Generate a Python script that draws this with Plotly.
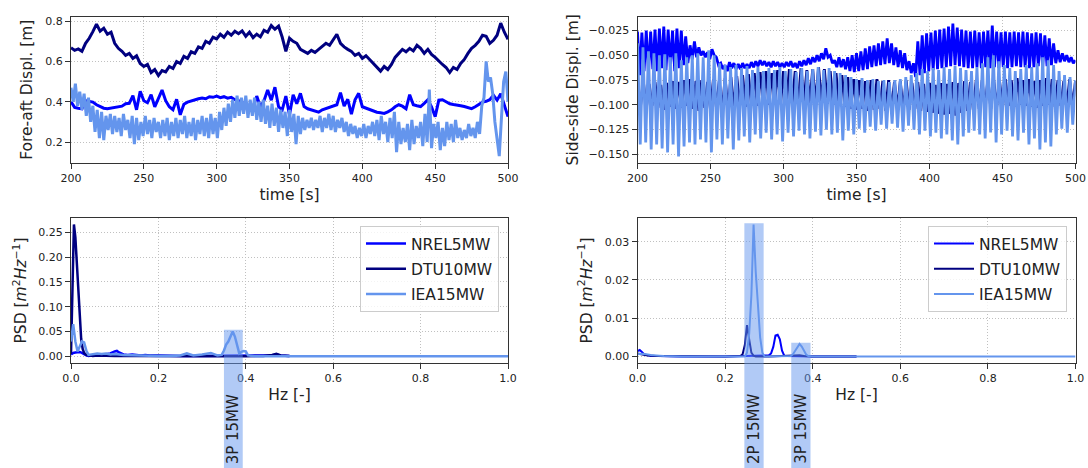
import numpy as np
import plotly.graph_objects as go

# ---------------- tower-top displacement time series (t = 200 ... 500 s) ----------------
# fore-aft [m]
fa_nrel = [
    0.400, 0.372, 0.368, 0.365, 0.405, 0.400, 0.398, 0.385, 0.376, 0.368,
    0.365, 0.368, 0.370, 0.375, 0.378, 0.390, 0.392, 0.430, 0.360, 0.452,
    0.405, 0.395, 0.435, 0.375, 0.420, 0.458, 0.405, 0.375, 0.360, 0.412,
    0.335, 0.388, 0.398, 0.405, 0.410, 0.415, 0.418, 0.415, 0.425, 0.422,
    0.428, 0.420, 0.425, 0.418, 0.422, 0.410, 0.405, 0.395, 0.388, 0.380,
    0.372, 0.428, 0.375, 0.405, 0.458, 0.408, 0.472, 0.375, 0.360, 0.428,
    0.335, 0.435, 0.390, 0.442, 0.376, 0.365, 0.358, 0.352, 0.348, 0.360,
    0.366, 0.372, 0.376, 0.385, 0.445, 0.378, 0.412, 0.338, 0.410, 0.442,
    0.375, 0.368, 0.362, 0.355, 0.348, 0.345, 0.342, 0.350, 0.360, 0.375,
    0.385, 0.378, 0.365, 0.435, 0.385, 0.380, 0.376, 0.392, 0.410, 0.375,
    0.326, 0.408, 0.410, 0.400, 0.390, 0.386, 0.384, 0.380, 0.376, 0.372,
    0.366, 0.375, 0.388, 0.398, 0.402, 0.410, 0.432, 0.408, 0.440, 0.378,
    0.326,
]
fa_dtu = [
    0.668, 0.655, 0.662, 0.650, 0.690, 0.715, 0.748, 0.785, 0.750, 0.765,
    0.735, 0.745, 0.690, 0.665, 0.650, 0.630, 0.640, 0.615, 0.628, 0.590,
    0.575, 0.585, 0.545, 0.560, 0.530, 0.555, 0.548, 0.575, 0.565, 0.600,
    0.590, 0.625, 0.615, 0.648, 0.640, 0.672, 0.665, 0.700, 0.690, 0.720,
    0.712, 0.735, 0.720, 0.745, 0.730, 0.750, 0.738, 0.752, 0.725, 0.745,
    0.718, 0.735, 0.722, 0.755, 0.745, 0.778, 0.760, 0.775, 0.720, 0.650,
    0.715, 0.700, 0.690, 0.660, 0.650, 0.640, 0.655, 0.645, 0.660, 0.675,
    0.690, 0.680, 0.705, 0.735, 0.690, 0.672, 0.660, 0.650, 0.630, 0.640,
    0.615, 0.628, 0.610, 0.590, 0.570, 0.552, 0.575, 0.560, 0.585, 0.620,
    0.640, 0.660, 0.648, 0.665, 0.652, 0.680, 0.665, 0.640, 0.660, 0.635,
    0.620, 0.600, 0.585, 0.570, 0.545, 0.570, 0.560, 0.590, 0.610, 0.640,
    0.665, 0.680, 0.700, 0.730, 0.725, 0.690, 0.705, 0.730, 0.790, 0.745,
    0.710,
]
fa_iea = [
    0.47, 0.40, 0.49, 0.38, 0.45, 0.36, 0.44, 0.33, 0.42, 0.30,
    0.38, 0.25, 0.36, 0.22, 0.35, 0.21, 0.33, 0.26, 0.34, 0.24,
    0.33, 0.25, 0.32, 0.23, 0.34, 0.26, 0.31, 0.22, 0.33, 0.19,
    0.32, 0.21, 0.30, 0.23, 0.33, 0.24, 0.31, 0.22, 0.32, 0.25,
    0.30, 0.22, 0.31, 0.23, 0.32, 0.21, 0.30, 0.23, 0.32, 0.22,
    0.31, 0.24, 0.33, 0.22, 0.30, 0.23, 0.32, 0.21, 0.31, 0.24,
    0.33, 0.23, 0.32, 0.22, 0.34, 0.24, 0.32, 0.22, 0.35, 0.26,
    0.37, 0.28, 0.39, 0.30, 0.41, 0.32, 0.43, 0.33, 0.42, 0.34,
    0.43, 0.32, 0.41, 0.33, 0.42, 0.31, 0.40, 0.30, 0.41, 0.29,
    0.38, 0.27, 0.39, 0.28, 0.37, 0.25, 0.36, 0.27, 0.35, 0.23,
    0.36, 0.25, 0.34, 0.19, 0.33, 0.24, 0.32, 0.26, 0.31, 0.27,
    0.32, 0.26, 0.31, 0.27, 0.33, 0.25, 0.32, 0.27, 0.34, 0.26,
    0.33, 0.25, 0.31, 0.27, 0.32, 0.25, 0.30, 0.23, 0.29, 0.24,
    0.28, 0.22, 0.27, 0.23, 0.29, 0.22, 0.28, 0.24, 0.30, 0.23,
    0.31, 0.21, 0.33, 0.24, 0.30, 0.20, 0.32, 0.22, 0.35, 0.15,
    0.30, 0.19, 0.27, 0.20, 0.29, 0.16, 0.31, 0.19, 0.28, 0.22,
    0.30, 0.18, 0.34, 0.20, 0.46, 0.17, 0.29, 0.22, 0.30, 0.16,
    0.27, 0.18, 0.30, 0.21, 0.29, 0.20, 0.31, 0.22, 0.27, 0.21,
    0.26, 0.22, 0.29, 0.23, 0.27, 0.22, 0.30, 0.24, 0.38, 0.42,
    0.60, 0.50, 0.52, 0.44, 0.30, 0.20, 0.13, 0.32, 0.50, 0.55,
    0.40,
]

# side-side [m]
ss_nrel = [
    -0.026, -0.070, -0.027, -0.066, -0.025, -0.068, -0.026, -0.064, -0.024, -0.066,
    -0.023, -0.063, -0.021, -0.065, -0.024, -0.062, -0.025, -0.066, -0.023, -0.063,
    -0.025, -0.060, -0.031, -0.058, -0.040, -0.054, -0.036, -0.052, -0.042, -0.050,
    -0.046, -0.052, -0.047, -0.054, -0.044, -0.050, -0.052, -0.060, -0.058, -0.064,
    -0.060, -0.066, -0.057, -0.063, -0.058, -0.064, -0.059, -0.064, -0.058, -0.063,
    -0.059, -0.063, -0.057, -0.062, -0.056, -0.061, -0.055, -0.060, -0.056, -0.061,
    -0.057, -0.062, -0.056, -0.061, -0.057, -0.062, -0.058, -0.062, -0.057, -0.061,
    -0.056, -0.062, -0.058, -0.063, -0.056, -0.061, -0.055, -0.060, -0.053, -0.059,
    -0.052, -0.057, -0.050, -0.056, -0.048, -0.054, -0.043, -0.052, -0.050, -0.058,
    -0.055, -0.062, -0.052, -0.062, -0.054, -0.064, -0.052, -0.066, -0.050, -0.067,
    -0.048, -0.066, -0.046, -0.065, -0.043, -0.064, -0.041, -0.062, -0.040, -0.061,
    -0.038, -0.060, -0.036, -0.059, -0.033, -0.058, -0.038, -0.060, -0.042, -0.062,
    -0.045, -0.063, -0.048, -0.065, -0.056, -0.068, -0.058, -0.072, -0.036, -0.070,
    -0.030, -0.068, -0.028, -0.066, -0.027, -0.065, -0.025, -0.064, -0.024, -0.063,
    -0.023, -0.062, -0.021, -0.061, -0.018, -0.060, -0.022, -0.061, -0.024, -0.062,
    -0.025, -0.063, -0.026, -0.063, -0.025, -0.062, -0.027, -0.063, -0.026, -0.062,
    -0.025, -0.063, -0.020, -0.062, -0.026, -0.063, -0.027, -0.062, -0.026, -0.063,
    -0.027, -0.062, -0.026, -0.061, -0.027, -0.062, -0.026, -0.062, -0.027, -0.063,
    -0.028, -0.062, -0.027, -0.061, -0.028, -0.062, -0.030, -0.061, -0.033, -0.060,
    -0.038, -0.058, -0.045, -0.057, -0.048, -0.056, -0.050, -0.057, -0.052, -0.058,
    -0.055,
]
ss_dtu = [
    -0.078, -0.102, -0.076, -0.104, -0.079, -0.101, -0.077, -0.103, -0.080, -0.105,
    -0.078, -0.102, -0.076, -0.104, -0.077, -0.103, -0.075, -0.101, -0.074, -0.104,
    -0.076, -0.106, -0.075, -0.103, -0.077, -0.105, -0.074, -0.102, -0.076, -0.106,
    -0.073, -0.104, -0.072, -0.103, -0.071, -0.101, -0.070, -0.102, -0.069, -0.100,
    -0.068, -0.101, -0.067, -0.099, -0.066, -0.100, -0.068, -0.098, -0.065, -0.099,
    -0.066, -0.100, -0.064, -0.098, -0.066, -0.099, -0.063, -0.097, -0.065, -0.098,
    -0.064, -0.099, -0.062, -0.097, -0.064, -0.099, -0.066, -0.100, -0.068, -0.101,
    -0.070, -0.102, -0.072, -0.104, -0.074, -0.105, -0.075, -0.104, -0.076, -0.106,
    -0.075, -0.105, -0.074, -0.104, -0.076, -0.106, -0.075, -0.105, -0.077, -0.104,
    -0.076, -0.106, -0.075, -0.105, -0.078, -0.104, -0.077, -0.106, -0.079, -0.107,
    -0.078, -0.108, -0.080, -0.109, -0.078, -0.110, -0.079, -0.109, -0.077, -0.111,
    -0.078, -0.108, -0.076, -0.106, -0.077, -0.105, -0.075, -0.104, -0.076, -0.103,
    -0.074, -0.104, -0.075, -0.102, -0.076, -0.103, -0.074, -0.101, -0.075, -0.102,
    -0.073, -0.100, -0.075, -0.101, -0.074, -0.102, -0.076, -0.103, -0.075, -0.101,
    -0.073, -0.100, -0.074, -0.102, -0.075, -0.101, -0.076, -0.103, -0.074, -0.102,
    -0.076,
]
ss_iea = [
    -0.038, -0.140, -0.042, -0.138, -0.046, -0.145, -0.048, -0.140, -0.050, -0.144,
    -0.049, -0.148, -0.052, -0.140, -0.048, -0.152, -0.055, -0.142, -0.052, -0.138,
    -0.050, -0.140, -0.048, -0.135, -0.052, -0.138, -0.045, -0.148, -0.050, -0.135,
    -0.058, -0.140, -0.060, -0.134, -0.062, -0.145, -0.060, -0.136, -0.063, -0.132,
    -0.061, -0.138, -0.065, -0.130, -0.062, -0.134, -0.066, -0.128, -0.063, -0.135,
    -0.065, -0.130, -0.062, -0.137, -0.066, -0.128, -0.064, -0.132, -0.067, -0.126,
    -0.063, -0.130, -0.066, -0.134, -0.064, -0.127, -0.062, -0.131, -0.065, -0.125,
    -0.063, -0.130, -0.066, -0.128, -0.068, -0.136, -0.070, -0.126, -0.072, -0.130,
    -0.074, -0.124, -0.073, -0.128, -0.075, -0.122, -0.074, -0.126, -0.076, -0.120,
    -0.075, -0.124, -0.077, -0.119, -0.075, -0.123, -0.074, -0.127, -0.072, -0.121,
    -0.070, -0.125, -0.068, -0.130, -0.064, -0.126, -0.066, -0.132, -0.063, -0.128,
    -0.065, -0.134, -0.062, -0.130, -0.064, -0.136, -0.061, -0.140, -0.063, -0.132,
    -0.065, -0.128, -0.066, -0.126, -0.062, -0.130, -0.058, -0.134, -0.052, -0.128,
    -0.050, -0.138, -0.056, -0.130, -0.060, -0.126, -0.063, -0.132, -0.066, -0.136,
    -0.064, -0.128, -0.060, -0.140, -0.062, -0.134, -0.058, -0.145, -0.052, -0.138,
    -0.055, -0.142, -0.060, -0.130, -0.066, -0.124, -0.070, -0.128, -0.072, -0.120,
    -0.075,
]

# ---------------- power spectral densities [m^2 Hz^-1] ----------------
psd_fa_f_nrel = [0, 0.005, 0.01, 0.015, 0.02, 0.025, 0.03, 0.035, 0.04, 0.05, 0.06, 0.07,
                 0.08, 0.09, 0.1, 0.105, 0.11, 0.12, 0.13, 0.14, 0.15, 0.16, 0.17, 0.18,
                 0.2, 0.22, 0.25, 0.28, 0.3, 0.33, 0.36, 0.4, 0.43, 0.46, 0.47, 0.48, 0.5]
psd_fa_nrel = [0.004, 0.007, 0.008, 0.008, 0.009, 0.007, 0.004, 0.002, 0.001, 0.002, 0.004, 0.003,
               0.004, 0.006, 0.010, 0.011, 0.008, 0.004, 0.003, 0.004, 0.003, 0.002, 0.003, 0.002,
               0.002, 0.001, 0.001, 0.001, 0.001, 0.001, 0.001, 0.001, 0.001, 0.002, 0.004, 0.002, 0.001]
psd_fa_f_dtu = [0, 0.0033, 0.0067, 0.01, 0.0133, 0.0167, 0.02, 0.0233, 0.0267, 0.03, 0.035,
                0.04, 0.05, 0.06, 0.08, 0.1, 0.15, 0.2, 0.25, 0.3, 0.35, 0.4, 0.44, 0.46,
                0.47, 0.48, 0.5]
psd_fa_dtu = [0.005, 0.15, 0.266, 0.24, 0.19, 0.12, 0.07, 0.035, 0.015, 0.007, 0.003,
              0.002, 0.001, 0.002, 0.001, 0.001, 0.001, 0.0005, 0.0005, 0.0005, 0.0005, 0.0005,
              0.001, 0.003, 0.005, 0.002, 0.001]
psd_fa_f_iea = [0, 0.005, 0.01, 0.015, 0.02, 0.025, 0.03, 0.035, 0.04, 0.05, 0.06, 0.07, 0.08,
                0.09, 0.1, 0.12, 0.15, 0.18, 0.2, 0.23, 0.25, 0.265, 0.28, 0.3, 0.32, 0.335,
                0.345, 0.35, 0.355, 0.36, 0.365, 0.37, 0.375, 0.38, 0.385, 0.39, 0.395, 0.4,
                0.405, 0.42, 0.5, 0.6, 0.8, 1.0]
psd_fa_iea = [0.03, 0.065, 0.03, 0.01, 0.02, 0.03, 0.028, 0.012, 0.003, 0.004, 0.006, 0.005, 0.006,
              0.004, 0.005, 0.003, 0.002, 0.001, 0.001, 0.001, 0.002, 0.006, 0.002, 0.004, 0.007, 0.002,
              0.003, 0.012, 0.024, 0.03, 0.04, 0.05, 0.04, 0.022, 0.006, 0.009, 0.011, 0.01,
              0.002, 0.0005, 0.0003, 0.0002, 0.0001, 0.0001]

psd_ss_f_nrel = [0, 0.005, 0.01, 0.015, 0.02, 0.03, 0.05, 0.1, 0.2, 0.29, 0.3, 0.305, 0.31,
                 0.315, 0.32, 0.325, 0.33, 0.335, 0.34, 0.4, 0.5]
psd_ss_nrel = [0.0014, 0.0017, 0.0012, 0.0006, 0.0004, 0.0002, 0.0001, 0.0, 0.0, 0.0001, 0.0003,
               0.0008, 0.0025, 0.0055, 0.0057, 0.0045, 0.0015, 0.0002, 0.0001, 0.0, 0.0]
psd_ss_f_dtu = [0, 0.01, 0.02, 0.04, 0.1, 0.2, 0.235, 0.24, 0.245, 0.25, 0.255, 0.26, 0.265,
                0.27, 0.3, 0.36, 0.37, 0.38, 0.4, 0.5]
psd_ss_dtu = [0.0008, 0.0005, 0.0003, 0.0001, 0.0, 0.0, 0.0001, 0.0006, 0.003, 0.0082, 0.0045,
              0.001, 0.0002, 0.0, 0.0, 0.0001, 0.0003, 0.0001, 0.0, 0.0]
psd_ss_f_iea = [0, 0.01, 0.02, 0.03, 0.05, 0.06, 0.1, 0.2, 0.245, 0.25, 0.255, 0.26, 0.265, 0.27,
                0.275, 0.28, 0.285, 0.29, 0.35, 0.355, 0.36, 0.365, 0.37, 0.375, 0.38, 0.385,
                0.39, 0.4, 0.5, 0.6, 0.8, 1.0]
psd_ss_iea = [0.0006, 0.0007, 0.0006, 0.0004, 0.0002, 0.0001, 0.0, 0.0, 0.0, 0.001, 0.006, 0.016,
              0.0345, 0.022, 0.012, 0.005, 0.001, 0.0, 0.0001, 0.0006, 0.0015, 0.0026, 0.0033,
              0.0026, 0.0014, 0.0005, 0.0001, 0.0, 0.0, 0.0, 0.0, 0.0]

# rotor-harmonic bands: (f_low, f_high, height, label)
bands_fa = [(0.350, 0.393, 0.0535, "3P 15MW")]
bands_ss = [(0.244, 0.288, 0.0348, "2P 15MW"), (0.351, 0.395, 0.0036, "3P 15MW")]

turbines = ["NREL5MW", "DTU10MW", "IEA15MW"]
colors = ["#0000ff", "#000080", "#6495ed"]

# ---------------- layout geometry ----------------
W, H = 1088, 468
XL = [71 / W, 508 / W]
XR = [637.5 / W, 1075.5 / W]
YT = [1 - 163 / H, 1 - 16.5 / H]
YB = [1 - 363 / H, 1 - 218 / H]
R_FA = [0.096, 0.823]
R_SS = [-0.1587, -0.0109]
R_PFA = [-0.0133, 0.279]
R_PSS = [-0.0017, 0.0362]

FONT = "DejaVu Sans"
TXT = "#222222"


def tgrid(vals):
    return np.linspace(200, 500, len(vals))


fig = go.Figure()

for name, col, vals in zip(turbines, colors, [fa_nrel, fa_dtu, fa_iea]):
    fig.add_trace(go.Scatter(x=tgrid(vals), y=vals, mode="lines", name=name,
                             line=dict(color=col, width=3), showlegend=False,
                             xaxis="x", yaxis="y"))
for name, col, vals in zip(turbines, colors, [ss_nrel, ss_dtu, ss_iea]):
    fig.add_trace(go.Scatter(x=tgrid(vals), y=vals, mode="lines", name=name,
                             line=dict(color=col, width=2.8), showlegend=False,
                             xaxis="x2", yaxis="y2"))
for name, col, f, p in zip(turbines, colors,
                           [psd_fa_f_nrel, psd_fa_f_dtu, psd_fa_f_iea],
                           [psd_fa_nrel, psd_fa_dtu, psd_fa_iea]):
    fig.add_trace(go.Scatter(x=f, y=p, mode="lines", name=name,
                             line=dict(color=col, width=2.5), legend="legend",
                             legendgroup="fa_" + name,
                             xaxis="x3", yaxis="y3"))
for name, col, f, p in zip(turbines, colors,
                           [psd_ss_f_nrel, psd_ss_f_dtu, psd_ss_f_iea],
                           [psd_ss_nrel, psd_ss_dtu, psd_ss_iea]):
    fig.add_trace(go.Scatter(x=f, y=p, mode="lines", name=name,
                             line=dict(color=col, width=2), legend="legend2",
                             legendgroup="ss_" + name,
                             xaxis="x4", yaxis="y4"))

axis_style = dict(
    showline=True, mirror=True, linecolor="#333333", linewidth=1,
    ticks="outside", ticklen=5, tickwidth=1, tickcolor="#333333",
    showgrid=True, gridcolor="#c0c0c0", griddash="1px,2px", gridwidth=1,
    zeroline=False, automargin=False,
    tickfont=dict(family=FONT, size=11, color=TXT),
)
title_font = dict(family=FONT, size=15.5, color=TXT)


def xax(dom, rng, anchor, dtick, fmt, title):
    return dict(axis_style, domain=dom, range=rng, anchor=anchor, dtick=dtick,
                tick0=0, tickformat=fmt,
                title=dict(text=title, font=title_font, standoff=4))


def yax(dom, rng, anchor, dtick, fmt, title, standoff):
    return dict(axis_style, domain=dom, range=rng, anchor=anchor, dtick=dtick,
                tick0=0, tickformat=fmt,
                title=dict(text=title, font=title_font, standoff=standoff))


psd_title = "PSD [<i>m</i><sup>2</sup><i>Hz</i><sup>−1</sup>]"

legend_style = dict(
    yanchor="top", y=1 - 226 / H, xanchor="right",
    bgcolor="rgba(255,255,255,0.8)", bordercolor="#cccccc", borderwidth=1,
    font=dict(family=FONT, size=15.5, color=TXT), itemwidth=40,
    tracegroupgap=2,
)


def paper_y(val, rng, dom):
    return dom[0] + (val - rng[0]) / (rng[1] - rng[0]) * (dom[1] - dom[0])


shapes, annotations = [], []
for xref, rng, bands in [("x3", R_PFA, bands_fa), ("x4", R_PSS, bands_ss)]:
    for f0, f1, top, label in bands:
        shapes.append(dict(type="rect", xref=xref, yref="paper", x0=f0, x1=f1,
                           y0=0, y1=paper_y(top, rng, YB), fillcolor="#6495ed",
                           opacity=0.5, line=dict(width=0), layer="above"))
        annotations.append(dict(text=label, xref=xref, yref="paper", x=(f0 + f1) / 2,
                                y=0, yanchor="bottom", xanchor="center", textangle=-90,
                                showarrow=False, yshift=2,
                                font=dict(family=FONT, size=15, color=TXT)))

fig.update_layout(
    width=W, height=H, margin=dict(l=0, r=0, t=0, b=0),
    paper_bgcolor="white", plot_bgcolor="white",
    font=dict(family=FONT, color=TXT),
    xaxis=xax(XL, [200, 500], "y", 50, "d", "time [s]"),
    yaxis=yax(YT, R_FA, "x", 0.2, ".1f", "Fore-aft Displ. [m]", 8),
    xaxis2=xax(XR, [200, 500], "y2", 50, "d", "time [s]"),
    yaxis2=yax(YT, R_SS, "x2", 0.025, ".3f", "Side-side Displ. [m]", 6),
    xaxis3=xax(XL, [0, 1], "y3", 0.2, ".1f", "Hz [-]"),
    yaxis3=yax(YB, R_PFA, "x3", 0.05, ".2f", psd_title, 7),
    xaxis4=xax(XR, [0, 1], "y4", 0.2, ".1f", "Hz [-]"),
    yaxis4=yax(YB, R_PSS, "x4", 0.01, ".2f", psd_title, 8),
    legend=dict(legend_style, x=499 / W),
    legend2=dict(legend_style, x=1067 / W),
    shapes=shapes,
    annotations=annotations,
)

fig.write_html("out.html")
